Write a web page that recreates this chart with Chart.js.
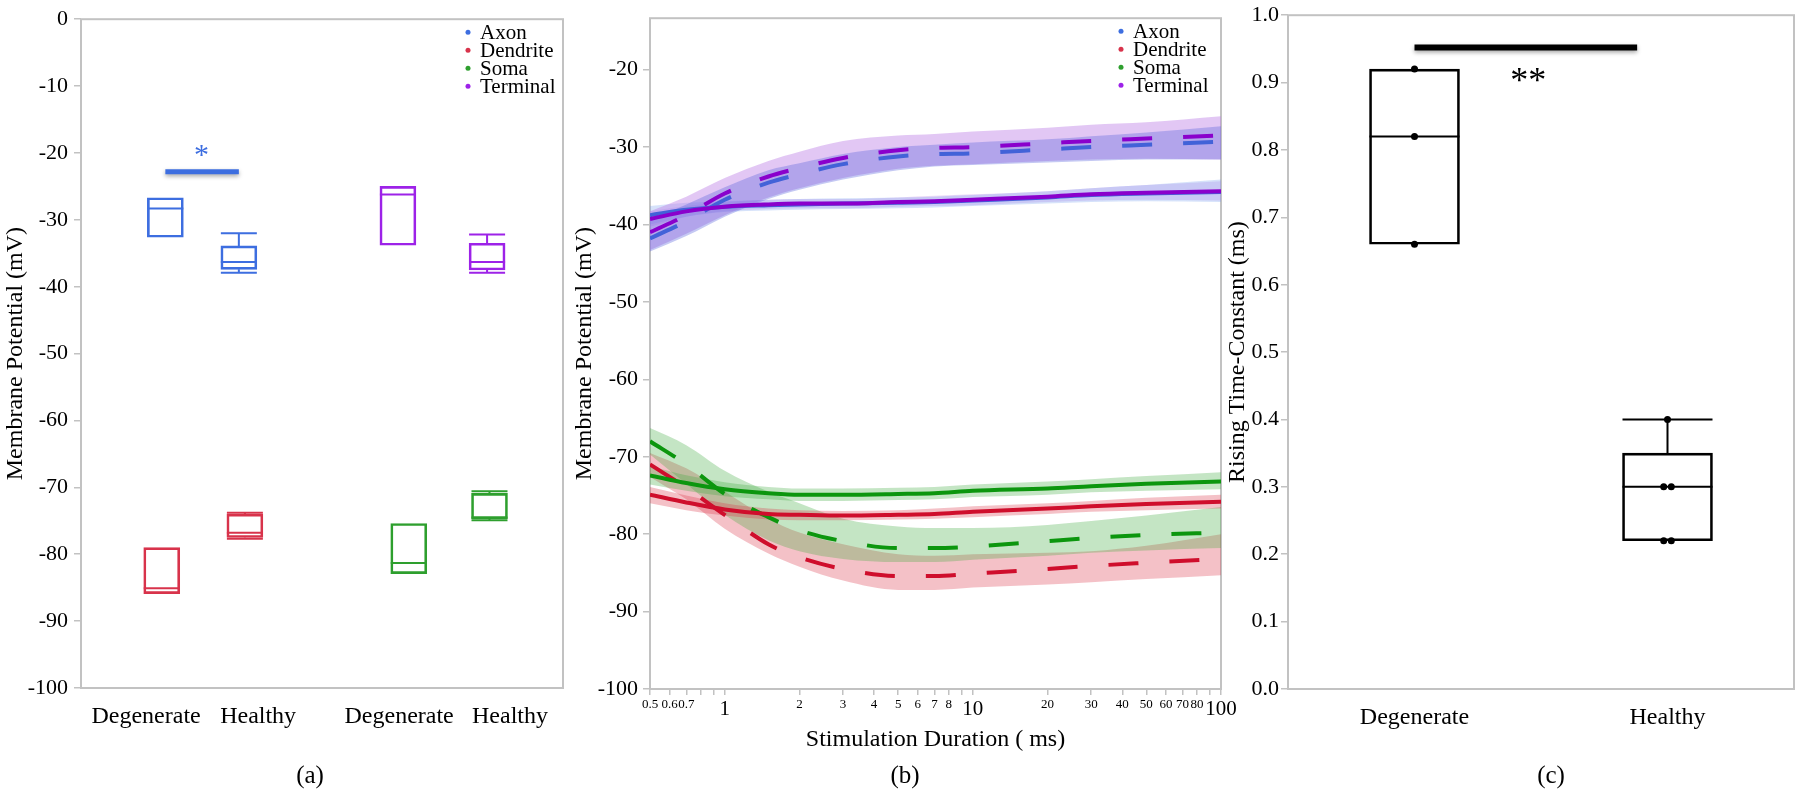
<!DOCTYPE html>
<html>
<head>
<meta charset="utf-8">
<script src="https://cdn.jsdelivr.net/npm/chart.js@4.4.1/dist/chart.umd.min.js"></script>
<style>
  html, body { margin: 0; padding: 0; background: #fff; }
  body { width: 1800px; height: 792px; position: relative; overflow: hidden; font-family: "Liberation Serif", "Times New Roman", Times, serif; }
  .panel { position: absolute; top: 0; }
  .panel canvas { display: block; }
  .cap { position: absolute; top: 775px; font-size: 25px; transform: translate(-50%, -50%); color: #000; }
</style>
</head>
<body>
<div class="panel" style="left:0px"><canvas id="chartA" width="600" height="792"></canvas></div>
<div class="panel" style="left:560px"><canvas id="chartB" width="690" height="792"></canvas></div>
<div class="panel" style="left:1200px"><canvas id="chartC" width="600" height="792"></canvas></div>
<div class="cap" style="left:310px">(a)</div>
<div class="cap" style="left:905px">(b)</div>
<div class="cap" style="left:1551px">(c)</div>

<script>
const FONT = '"Liberation Serif", "Times New Roman", Times, serif';
const TEXT = "#000";
const FRAME = "#c2c2c2";

/* Panel (a): resting potential per compartment */
const parts = ["Axon", "Dendrite", "Soma", "Terminal"];
const partColors = ["#3d6ee0", "#d8334b", "#2e9f2e", "#9d22e8"];
const groupLabels = ["Degenerate", "Healthy", "Degenerate", "Healthy"];
const groupPos = [0.54, 1.47, 2.64, 3.56];
const yTicksA = [0, -10, -20, -30, -40, -50, -60, -70, -80, -90, -100];

// [degenerate, healthy] for each compartment
const boxPos  = { Axon: [0.70, 1.31], Dendrite: [0.67, 1.36], Soma: [2.72, 3.39], Terminal: [2.63, 3.37] };
const boxLow  = { Axon: [-32.6, -37.9], Dendrite: [-85.9, -77.7], Soma: [-82.9, -74.9], Terminal: [-33.8, -37.9] };
const boxQ1   = { Axon: [-32.6, -37.4], Dendrite: [-85.9, -77.5], Soma: [-82.9, -74.7], Terminal: [-33.8, -37.5] };
const boxMed  = { Axon: [-28.3, -36.3], Dendrite: [-85.1, -76.8], Soma: [-81.3, -74.5], Terminal: [-26.2, -36.3] };
const boxQ3   = { Axon: [-26.7, -33.9], Dendrite: [-79.0, -74.0], Soma: [-75.4, -70.9], Terminal: [-25.0, -33.5] };
const boxHigh = { Axon: [-26.7, -32.0], Dendrite: [-79.0, -73.8], Soma: [-75.4, -70.6], Terminal: [-25.0, -32.2] };

/* Panel (b): potential vs stimulation duration */
const durations = [0.5, 0.7, 1, 1.5, 2, 3, 5, 7, 10, 20, 30, 50, 100];
const logTicks = [0.5, 0.6, 0.7, 0.8, 0.9, 1, 2, 3, 4, 5, 6, 7, 8, 9, 10, 20, 30, 40, 50, 60, 70, 80, 90, 100];
const logTickText = ["0.5", "0.6", "0.7", "", "", "1", "2", "3", "4", "5", "6", "7", "8", "", "10",
                     "20", "30", "40", "50", "60", "70", "80", "", "100"];
const bigTicks = [1, 10, 100];
const yTicksB = [-20, -30, -40, -50, -60, -70, -80, -90, -100];

const axonDeg   = [-41.8, -39.6, -36.8, -34.6, -33.5, -32.2, -31.2, -30.9, -30.8, -30.3, -30.0, -29.7, -29.3];
const axonDegHi = [-39.5, -37.4, -35.2, -33.0, -32.1, -30.9, -30.0, -29.7, -29.4, -29.0, -28.6, -28.1, -27.3];
const axonDegLo = [-43.5, -41.5, -39.0, -36.7, -35.5, -34.2, -33.0, -32.5, -32.3, -32.0, -31.8, -31.6, -31.6];
const termDeg   = [-41.0, -38.8, -36.0, -33.8, -32.7, -31.4, -30.4, -30.1, -30.0, -29.5, -29.2, -28.9, -28.5];
const termDegHi = [-38.3, -36.4, -34.0, -31.8, -30.6, -29.2, -28.5, -28.3, -28.0, -27.5, -27.1, -26.8, -26.0];
const termDegLo = [-43.3, -41.2, -38.8, -36.5, -35.3, -34.0, -32.8, -32.4, -32.2, -31.8, -31.6, -31.5, -31.6];
const axonHea   = [-38.8, -38.1, -37.7, -37.5, -37.4, -37.3, -37.2, -37.1, -36.9, -36.5, -36.2, -36.0, -35.8];
const axonHeaHi = [-37.6, -37.2, -37.0, -36.8, -36.7, -36.6, -36.5, -36.4, -36.2, -35.7, -35.3, -34.9, -34.2];
const axonHeaLo = [-40.0, -39.0, -38.4, -38.2, -38.1, -38.0, -37.9, -37.8, -37.6, -37.3, -37.1, -37.0, -37.1];
const termHea   = [-39.3, -38.3, -37.7, -37.4, -37.3, -37.3, -37.1, -37.0, -36.8, -36.4, -36.1, -35.9, -35.7];
const termHeaHi = [-38.3, -37.6, -37.1, -36.8, -36.7, -36.7, -36.5, -36.3, -36.1, -35.7, -35.3, -34.9, -34.4];
const termHeaLo = [-40.3, -39.0, -38.3, -38.0, -37.9, -37.9, -37.7, -37.6, -37.5, -37.1, -36.9, -36.8, -36.9];
const somaDeg   = [-68.0, -71.0, -74.8, -77.8, -79.5, -80.9, -81.8, -81.8, -81.6, -80.9, -80.5, -80.1, -79.8];
const somaDegHi = [-66.3, -68.5, -71.8, -74.5, -76.0, -78.0, -79.0, -79.2, -79.2, -78.8, -78.3, -77.6, -76.5];
const somaDegLo = [-69.7, -73.5, -77.5, -80.8, -82.2, -83.2, -83.6, -83.6, -83.3, -82.8, -82.4, -82.1, -81.8];
const dendDeg   = [-71.0, -74.0, -77.5, -81.3, -83.0, -84.5, -85.4, -85.4, -85.1, -84.5, -84.1, -83.7, -83.2];
const dendDegHi = [-69.5, -71.5, -74.5, -78.0, -79.8, -81.3, -82.6, -82.8, -82.6, -82.4, -82.2, -81.5, -80.0];
const dendDegLo = [-72.6, -75.5, -79.3, -82.5, -84.2, -86.0, -87.2, -87.2, -86.9, -86.5, -86.2, -85.8, -85.3];
const somaHea   = [-72.4, -73.4, -74.2, -74.7, -74.9, -74.9, -74.8, -74.7, -74.4, -74.1, -73.8, -73.5, -73.2];
const somaHeaHi = [-71.2, -72.4, -73.3, -73.9, -74.1, -74.1, -74.0, -73.9, -73.6, -73.2, -72.9, -72.5, -72.0];
const somaHeaLo = [-73.6, -74.4, -75.1, -75.5, -75.7, -75.7, -75.6, -75.5, -75.2, -74.9, -74.6, -74.4, -74.2];
const dendHea   = [-74.9, -75.9, -76.8, -77.4, -77.5, -77.6, -77.5, -77.4, -77.1, -76.7, -76.4, -76.1, -75.8];
const dendHeaHi = [-73.9, -75.0, -76.0, -76.7, -76.9, -77.0, -76.9, -76.7, -76.4, -76.0, -75.7, -75.3, -74.9];
const dendHeaLo = [-76.0, -76.9, -77.6, -78.1, -78.2, -78.2, -78.1, -78.0, -77.8, -77.4, -77.1, -76.9, -76.7];

/* Panel (c): rising time-constant */
const cGroups = ["Degenerate", "Healthy"];
const cLow  = [0.66, 0.22];
const cQ1   = [0.66, 0.22];
const cMed  = [0.82, 0.30];
const cQ3   = [0.92, 0.35];
const cHigh = [0.92, 0.40];
const cPoints = [[0.92, 0.82, 0.66], [0.40, 0.30, 0.30, 0.22, 0.22]];
const yTicksC = [0, 0.1, 0.2, 0.3, 0.4, 0.5, 0.6, 0.7, 0.8, 0.9, 1.0];

/* Plugins */
const frame = {
  id: "frame",
  beforeDatasetsDraw(chart) {
    const { ctx, chartArea: a } = chart;
    ctx.save();
    ctx.strokeStyle = FRAME;
    ctx.lineWidth = 2;
    ctx.strokeRect(a.left, a.top, a.right - a.left, a.bottom - a.top);
    ctx.restore();
  }
};

// medians, whiskers and caps on top of the floating-bar boxes
const boxExtras = {
  id: "boxExtras",
  afterDatasetsDraw(chart, args, o) {
    if (!o.items) return;
    const { ctx, scales: { x, y } } = chart;
    const hw = o.width / 2;
    ctx.save();
    ctx.lineWidth = o.lineWidth;
    o.items.forEach(b => {
      const cx = x.getPixelForValue(b.x);
      const hline = v => { const py = y.getPixelForValue(v); ctx.moveTo(cx - hw, py); ctx.lineTo(cx + hw, py); };
      ctx.strokeStyle = b.color;
      ctx.beginPath();
      hline(b.med);
      if (b.high > b.q3) {
        ctx.moveTo(cx, y.getPixelForValue(b.q3));
        ctx.lineTo(cx, y.getPixelForValue(b.high));
        hline(b.high);
      }
      if (b.low < b.q1) {
        ctx.moveTo(cx, y.getPixelForValue(b.q1));
        ctx.lineTo(cx, y.getPixelForValue(b.low));
        hline(b.low);
      }
      ctx.stroke();
    });
    ctx.restore();
  }
};

const sigMark = {
  id: "sigMark",
  afterDatasetsDraw(chart, args, o) {
    if (!o.color) return;
    const { ctx, scales: { x, y } } = chart;
    const yb = y.getPixelForValue(o.y);
    ctx.save();
    ctx.strokeStyle = o.color;
    ctx.lineWidth = o.lineWidth;
    ctx.shadowColor = "rgba(0,0,0,0.35)";
    ctx.shadowBlur = 4;
    ctx.shadowOffsetY = 2;
    ctx.beginPath();
    ctx.moveTo(x.getPixelForValue(o.x0), yb);
    ctx.lineTo(x.getPixelForValue(o.x1), yb);
    ctx.stroke();
    ctx.shadowColor = "transparent";
    ctx.fillStyle = o.color;
    ctx.font = `${o.starSize}px ${FONT}`;
    ctx.textAlign = "center";
    ctx.textBaseline = "middle";
    ctx.fillText(o.star, x.getPixelForValue(o.starX), y.getPixelForValue(o.starY) + o.starSize * 0.16);
    ctx.restore();
  }
};

const dotLegend = {
  id: "dotLegend",
  afterDraw(chart, args, o) {
    if (!o.labels) return;
    const { ctx, chartArea: a } = chart;
    ctx.save();
    ctx.font = `${o.size}px ${FONT}`;
    ctx.textBaseline = "middle";
    o.labels.forEach((t, i) => {
      const py = a.top + o.top + i * o.step;
      const px = a.right - o.right;
      ctx.fillStyle = o.colors[i];
      ctx.beginPath();
      ctx.arc(px, py, 2.5, 0, Math.PI * 2);
      ctx.fill();
      ctx.fillStyle = TEXT;
      ctx.fillText(t, px + 12, py + 1);
    });
    ctx.restore();
  }
};

/* Shared axis builders */
function yAxis(min, max, ticks, fmt, width, title, titlePad, tickPad) {
  return {
    min, max,
    afterBuildTicks: s => { s.ticks = ticks.map(v => ({ value: v })); },
    afterFit: s => { s.width = width; },
    ticks: { color: TEXT, padding: tickPad, font: { family: FONT, size: 22 }, callback: v => fmt(v) },
    grid: { drawOnChartArea: false, drawTicks: true, tickLength: 7, color: FRAME, lineWidth: 1.5 },
    border: { display: false },
    title: { display: true, text: title, color: TEXT, font: { family: FONT, size: 24 }, padding: { top: titlePad, bottom: 0 } }
  };
}

function catAxis(min, max, pos, labels, height) {
  return {
    type: "linear", min, max, offset: false,
    afterBuildTicks: s => { s.ticks = pos.map(v => ({ value: v })); },
    afterFit: s => { s.height = height; },
    ticks: { color: TEXT, padding: 6, autoSkip: false, maxRotation: 0, font: { family: FONT, size: 24 },
             callback: (v, i) => labels[i] },
    grid: { display: false },
    border: { display: false }
  };
}

const base = {
  responsive: false,
  animation: false,
  devicePixelRatio: 1,
  events: []
};

/* Chart (a) */
const boxW = 36;
const boxItemsA = [];
const datasetsA = parts.map((p, k) => {
  boxPos[p].forEach((bx, j) => boxItemsA.push({
    x: bx, low: boxLow[p][j], q1: boxQ1[p][j], med: boxMed[p][j], q3: boxQ3[p][j], high: boxHigh[p][j], color: partColors[k]
  }));
  return {
    label: p,
    data: boxPos[p].map((bx, j) => ({ x: bx, y: [boxQ1[p][j], boxQ3[p][j]] })),
    borderColor: partColors[k],
    backgroundColor: "rgba(0,0,0,0)",
    borderWidth: 2,
    borderSkipped: false,
    barThickness: boxW,
    grouped: false
  };
});

new Chart(document.getElementById("chartA"), {
  type: "bar",
  data: { datasets: datasetsA },
  options: {
    ...base,
    layout: { padding: { left: 0, top: 16, right: 37, bottom: 0 } },
    scales: {
      x: catAxis(0, 4, groupPos, groupLabels, 104),
      y: yAxis(-100, 0, yTicksA, v => String(v), 81, "Membrane Potential (mV)", 1, 6)
    },
    plugins: {
      legend: { display: false },
      tooltip: { enabled: false },
      boxExtras: { items: boxItemsA, width: boxW, lineWidth: 2 },
      sigMark: { color: partColors[0], lineWidth: 5, x0: boxPos.Axon[0], x1: boxPos.Axon[1], y: -22.8,
                 star: "*", starX: 1.0, starY: -19.8, starSize: 30 },
      dotLegend: { labels: parts, colors: partColors, size: 21, top: 13, step: 18, right: 95 }
    }
  },
  plugins: [frame, boxExtras, sigMark, dotLegend]
});

/* Chart (b) */
const pts = arr => durations.map((d, i) => ({ x: d, y: arr[i] }));
const lineColors = { Axon: "#4262d8", Dendrite: "#cf0e2c", Soma: "#0c960e", Terminal: "#8a00cc" };
const bandColors = {
  Axon: "rgba(90,100,220,0.35)",
  Dendrite: "rgba(220,50,70,0.30)",
  Soma: "rgba(60,170,60,0.30)",
  Terminal: "rgba(190,130,230,0.45)",
  AxonSolid: "rgba(120,160,240,0.30)",
  TermSolid: "rgba(190,130,230,0.30)"
};

function lineSet(label, arr, color, dashed) {
  return {
    label, data: pts(arr), borderColor: color, borderWidth: 4,
    borderDash: dashed ? [30, 31] : [], pointRadius: 0, fill: false,
    cubicInterpolationMode: "monotone"
  };
}
function bandSet(hi, lo, color) {
  return [
    { data: pts(hi), borderWidth: 0, pointRadius: 0, fill: false, cubicInterpolationMode: "monotone" },
    { data: pts(lo), borderWidth: 0, pointRadius: 0, fill: "-1", backgroundColor: color, cubicInterpolationMode: "monotone" }
  ];
}

const datasetsB = [
  lineSet("Terminal Healthy", termHea, lineColors.Terminal, false),
  lineSet("Axon Healthy", axonHea, lineColors.Axon, false),
  lineSet("Terminal Degenerate", termDeg, lineColors.Terminal, true),
  lineSet("Axon Degenerate", axonDeg, lineColors.Axon, true),
  lineSet("Soma Healthy", somaHea, lineColors.Soma, false),
  lineSet("Dendrite Healthy", dendHea, lineColors.Dendrite, false),
  lineSet("Soma Degenerate", somaDeg, lineColors.Soma, true),
  lineSet("Dendrite Degenerate", dendDeg, lineColors.Dendrite, true),
  ...bandSet(axonDegHi, axonDegLo, bandColors.Axon),
  ...bandSet(termDegHi, termDegLo, bandColors.Terminal),
  ...bandSet(axonHeaHi, axonHeaLo, bandColors.AxonSolid),
  ...bandSet(termHeaHi, termHeaLo, bandColors.TermSolid),
  ...bandSet(somaHeaHi, somaHeaLo, bandColors.Soma),
  ...bandSet(dendHeaHi, dendHeaLo, bandColors.Dendrite),
  ...bandSet(somaDegHi, somaDegLo, bandColors.Soma),
  ...bandSet(dendDegHi, dendDegLo, bandColors.Dendrite)
];

new Chart(document.getElementById("chartB"), {
  type: "line",
  data: { datasets: datasetsB },
  options: {
    ...base,
    layout: { padding: { left: 0, top: 15, right: 29, bottom: 38 } },
    scales: {
      x: {
        type: "logarithmic", min: 0.5, max: 100,
        afterBuildTicks: s => { s.ticks = logTicks.map(v => ({ value: v })); },
        afterFit: s => { s.height = 65; },
        ticks: {
          color: TEXT, padding: 2, autoSkip: false, maxRotation: 0,
          callback: (v, i) => logTickText[i],
          font: c => ({ family: FONT, size: c.tick && bigTicks.includes(c.tick.value) ? 21 : 13 })
        },
        grid: { drawOnChartArea: false, drawTicks: true, tickLength: 6, color: FRAME, lineWidth: 1.5 },
        border: { display: false },
        title: { display: true, text: "Stimulation Duration ( ms)", color: TEXT, font: { family: FONT, size: 24 },
                 padding: { top: 0, bottom: 0 } }
      },
      y: yAxis(-100, -13.35, yTicksB, v => String(v), 90, "Membrane Potential (mV)", 10, 5)
    },
    plugins: {
      legend: { display: false },
      tooltip: { enabled: false },
      dotLegend: { labels: parts, colors: partColors, size: 21, top: 13, step: 18, right: 100 }
    }
  },
  plugins: [frame, dotLegend]
});

/* Chart (c) */
const boxWC = 90;
function jitter(vals, xc) {
  const seen = {};
  return vals.map(v => {
    const n = vals.filter(u => u === v).length;
    const k = (seen[v] = (seen[v] || 0) + 1) - 1;
    return { x: xc + (n > 1 ? (k - (n - 1) / 2) * 0.03 : 0), y: v };
  });
}

new Chart(document.getElementById("chartC"), {
  type: "bar",
  data: {
    datasets: [
      {
        type: "scatter",
        label: "Values",
        data: [...jitter(cPoints[0], 0), ...jitter(cPoints[1], 1)],
        pointRadius: 3.5, pointBackgroundColor: "#000", pointBorderWidth: 0, showLine: false
      },
      {
        label: "Rising time-constant",
        data: cGroups.map((g, i) => ({ x: i, y: [cQ1[i], cQ3[i]] })),
        borderColor: "#000", backgroundColor: "rgba(0,0,0,0)", borderWidth: 2,
        borderSkipped: false, barThickness: boxWC, grouped: false
      }
    ]
  },
  options: {
    ...base,
    layout: { padding: { left: 0, top: 15, right: 6, bottom: 0 } },
    scales: {
      x: catAxis(-0.5, 1.5, [0, 1], cGroups, 103),
      y: yAxis(0, 1, yTicksC, v => v.toFixed(1), 88, "Rising Time-Constant (ms)", 23, 2)
    },
    plugins: {
      legend: { display: false },
      tooltip: { enabled: false },
      boxExtras: {
        items: cGroups.map((g, i) => ({ x: i, low: cLow[i], q1: cQ1[i], med: cMed[i], q3: cQ3[i], high: cHigh[i], color: "#000" })),
        width: boxWC, lineWidth: 2
      },
      sigMark: { color: "#000", lineWidth: 6, x0: 0, x1: 0.88, y: 0.952, star: "**", starX: 0.45, starY: 0.909, starSize: 36 }
    }
  },
  plugins: [frame, boxExtras, sigMark]
});
</script>
</body>
</html>
